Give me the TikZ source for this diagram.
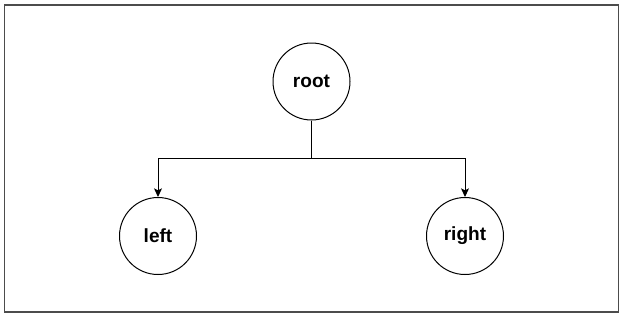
\documentclass[tikz,border=0pt]{standalone}
\usepackage{fontspec}
\setmainfont{Liberation Sans}
\usetikzlibrary{arrows.meta}
\begin{document}
\begin{tikzpicture}[x=0.75pt,y=-0.75pt,
  treenode/.style={circle,draw=black,line width=0.75pt,minimum size=77*0.75pt,inner sep=0pt,font=\fontsize{14.3}{16}\selectfont\bfseries},
  link/.style={line width=0.75pt,-{Stealth[length=6.5pt,width=6pt,inset=1.5pt]}}]
\useasboundingbox (0,0) rectangle (625,318);
\node[draw=black!70,line width=1.1pt,minimum width=614*0.75pt,minimum height=307*0.75pt,inner sep=0pt] (frame) at (311.5,158.5) {};
\node[treenode] (root) at (311.5,81.5) {root};
\node[treenode] (left) at (158,236) {left};
\node[treenode] (right) at (465,236) {right};
\coordinate (j) at (311.5,158);
\draw[line width=0.75pt] (root.south) -- (j);
\draw[link] (j) -| (left.north);
\draw[link] (j) -| (right.north);
\end{tikzpicture}
\end{document}
